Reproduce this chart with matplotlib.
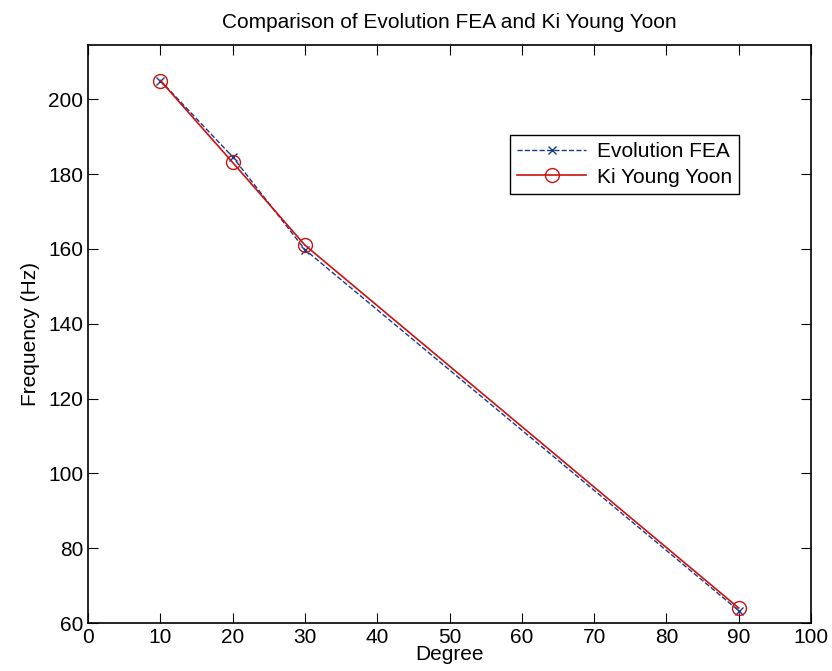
import matplotlib
matplotlib.use('Agg')
import matplotlib.pyplot as plt

plt.rcParams['font.family'] = ['Liberation Sans', 'DejaVu Sans']

degrees = [10, 20, 30, 90]
fea_freq = [205, 184.6, 159.8, 63.3]
yoon_freq = [205, 183.1, 161.0, 64.0]

fig = plt.figure(figsize=(8.32, 6.71), dpi=100)
ax = fig.add_axes([0.1058, 0.0715, 0.869, 0.8615])

ax.plot(degrees, fea_freq, linestyle='--', color='#1a3a8a', marker='x',
        markersize=6, linewidth=1.0, label='Evolution FEA')
ax.plot(degrees, yoon_freq, linestyle='-', color='#cc1111', marker='o',
        markersize=10, markerfacecolor='none', linewidth=1.2, label='Ki Young Yoon')

ax.set_xlim(0, 100)
ax.set_ylim(60, 214.5)
ax.set_xticks(range(0, 101, 10))
ax.set_yticks(range(60, 201, 20))
ax.tick_params(direction='in', top=True, right=True, labelsize=15, length=7)
for s in ax.spines.values():
    s.set_linewidth(1.2)

ax.set_xlabel('Degree', fontsize=15, labelpad=-1)
ax.set_ylabel('Frequency (Hz)', fontsize=15, labelpad=6)
ax.set_title('Comparison of Evolution FEA and Ki Young Yoon', fontsize=15, pad=12)

leg = ax.legend(loc='upper right', bbox_to_anchor=(0.9004, 0.844), fontsize=15,
                fancybox=False, framealpha=1, edgecolor='black',
                handlelength=3.3, handletextpad=0.5, borderpad=0.35,
                labelspacing=0.3, borderaxespad=0)
leg.get_frame().set_linewidth(1.0)

fig.savefig('out.png', dpi=100)
